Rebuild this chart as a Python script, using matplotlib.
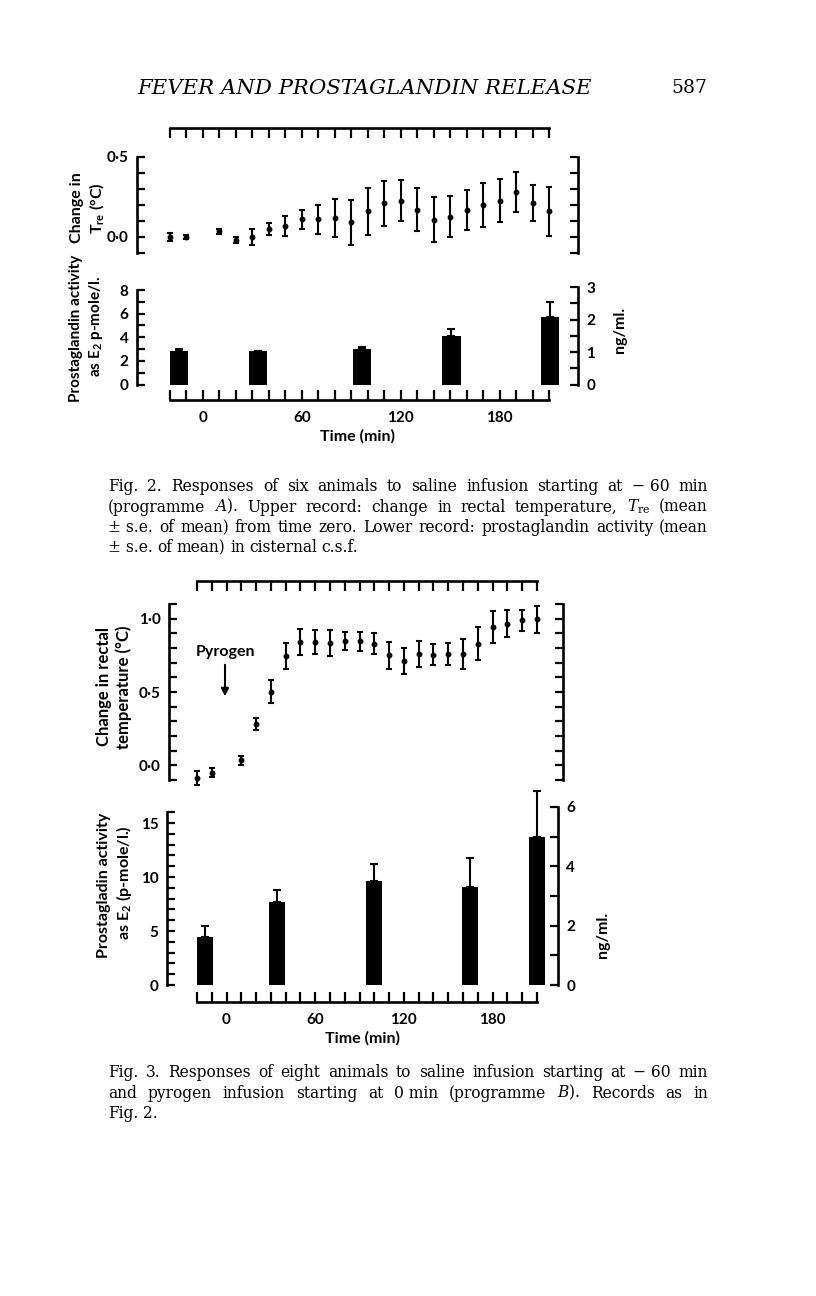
import numpy as np
import matplotlib
matplotlib.use('Agg')
import matplotlib.pyplot as plt

W, H = 816, 1296
K = 2.75  # p-mole/l. per ng/ml. (right-hand scales)

# Fig. 2 - rectal temperature (mean, s.e.)
t2 = [-20, -10, 10, 20, 30, 40, 50, 60, 70, 80, 90, 100, 110, 120, 130, 140,
      150, 160, 170, 180, 190, 200, 210]
m2 = [0.0, 0.0, 0.035, -0.02, 0.0, 0.05, 0.07, 0.11, 0.11, 0.12, 0.093, 0.16,
      0.21, 0.227, 0.17, 0.107, 0.128, 0.17, 0.2, 0.227, 0.283, 0.215, 0.16]
e2 = [0.028, 0.015, 0.018, 0.018, 0.05, 0.038, 0.062, 0.06, 0.09, 0.12, 0.14,
      0.145, 0.14, 0.13, 0.135, 0.14, 0.13, 0.125, 0.14, 0.135, 0.124, 0.113, 0.153]

# Fig. 2 - prostaglandin activity
tb2 = [-14.3, 33.4, 96.3, 150.8, 210.6]
vb2 = [2.85, 2.88, 3.02, 4.14, 5.68]
eb2 = [0.15, 0.0, 0.14, 0.53, 1.34]

# Fig. 3 - rectal temperature
t3 = t2
m3 = [-0.087, -0.05, 0.034, 0.28, 0.503, 0.744, 0.842, 0.842, 0.835, 0.847,
      0.847, 0.83, 0.75, 0.71, 0.76, 0.755, 0.76, 0.76, 0.83, 0.943, 0.966,
      0.989, 0.995]
e3 = [0.05, 0.03, 0.03, 0.042, 0.08, 0.09, 0.09, 0.08, 0.09, 0.063, 0.065,
      0.07, 0.09, 0.088, 0.09, 0.07, 0.077, 0.1, 0.11, 0.11, 0.09, 0.072, 0.09]

# Fig. 3 - prostaglandin activity
tb3 = [-14.6, 34, 100, 164.5, 210]
vb3 = [4.42, 7.7, 9.63, 9.1, 13.7]
eb3 = [1.08, 1.1, 1.57, 2.7, 4.3]

time_ticks = np.arange(-20, 211, 10)
time_labels = [str(t) if t in (0, 60, 120, 180) else '' for t in time_ticks]

cap2 = ["Fig. 2. Responses of six animals to saline infusion starting at \u2212\u00a060 min",
        "(programme $A$). Upper record: change in rectal temperature, $T_{\\mathrm{re}}$ (mean",
        "\u00b1\u00a0s.e. of mean) from time zero. Lower record: prostaglandin activity (mean",
        "\u00b1\u00a0s.e. of mean) in cisternal c.s.f."]
cap3 = ["Fig. 3. Responses of eight animals to saline infusion starting at \u2212\u00a060 min",
        "and pyrogen infusion starting at 0\u00a0min (programme $B$). Records as in",
        "Fig. 2."]

plt.rcParams['font.family'] = ['Lato', 'DejaVu Sans']
plt.rcParams['mathtext.fontset'] = 'custom'
plt.rcParams['mathtext.rm'] = 'Lato:bold'
plt.rcParams['mathtext.it'] = 'Lato:bold:italic'
plt.rcParams['mathtext.bf'] = 'Lato:bold'

LW = 1.9   # spine width
TW = 1.6   # tick width
FS = 11
LFS = 11.5  # axis titles

fig = plt.figure(figsize=(W / 100, H / 100), dpi=100)


def frac(x0, y0, x1, y1):
    return [x0 / W, 1 - y1 / H, (x1 - x0) / W, (y1 - y0) / H]


def time_axes(x0, y0, x1, y1, t0px, ppm):
    ax = fig.add_axes(frac(x0, y0, x1, y1))
    ax.set_xlim((x0 - t0px) / ppm, (x1 - t0px) / ppm)
    ax.patch.set_alpha(0)
    for s in ax.spines.values():
        s.set_linewidth(LW)
    return ax


def tick_bar(y, x0, x1, t0px, ppm):
    ax = time_axes(x0, y, x1, y + 20, t0px, ppm)
    for s in ['left', 'right', 'bottom']:
        ax.spines[s].set_visible(False)
    ax.spines['top'].set_bounds(-20, 210)
    ax.set_xticks(time_ticks)
    ax.tick_params(axis='x', top=True, bottom=False, labelbottom=False,
                   direction='in', length=7, width=TW)
    ax.set_yticks([])


def temp_panel(rect, t0px, ppm, ylim, ticks, labels, t, m, e):
    ax = time_axes(*rect, t0px, ppm)
    ax.set_ylim(*ylim)
    ax.spines['top'].set_visible(False)
    ax.spines['bottom'].set_visible(False)
    ax.set_xticks([])
    ax.set_yticks(ticks)
    ax.set_yticklabels(labels, fontweight='bold')
    ax.tick_params(axis='y', left=True, right=True, direction='in',
                   length=6, width=TW, labelsize=FS, pad=6)
    ax.errorbar(t, m, yerr=e, fmt='o', ms=3.2, color='k', elinewidth=1.5,
                capsize=2.2, capthick=1.5, clip_on=False)
    return ax


def bar_panel(rect, t0px, ppm, ylim, left_top, left_step, ng_top, ng_step,
              t, v, e):
    ax = time_axes(*rect, t0px, ppm)
    ax.set_ylim(*ylim)
    ax.spines['top'].set_visible(False)
    ax.spines['right'].set_visible(False)
    ax.spines['left'].set_bounds(0, left_top)
    ax.spines['bottom'].set_bounds(-20, 210)
    ax.set_xticks(time_ticks)
    ax.set_xticklabels(time_labels, fontweight='bold')
    ax.tick_params(axis='x', direction='in', length=7, width=TW,
                   labelsize=FS, pad=8)
    yt = np.arange(0, left_top + 0.01, 1)
    ax.set_yticks(yt)
    ax.set_yticklabels([f'{y:g}' if y % left_step == 0 else '' for y in yt],
                       fontweight='bold')
    ax.tick_params(axis='y', direction='in', length=6, width=TW,
                   labelsize=FS, pad=6)
    ax.bar(t, v, width=11, color='k')
    ax.errorbar(t, v, yerr=[np.zeros(len(e)), e], fmt='none', ecolor='k',
                elinewidth=1.5, capsize=3, capthick=1.5, clip_on=False)
    ax.set_xlabel('Time (min)', fontsize=LFS, fontweight='bold', labelpad=3)

    tw = ax.twinx()
    tw.set_ylim(ylim[0] / K, ylim[1] / K)
    for s in ['left', 'top', 'bottom']:
        tw.spines[s].set_visible(False)
    tw.spines['right'].set_linewidth(LW)
    tw.spines['right'].set_bounds(0, ng_top)
    rt = np.arange(0, ng_top + 0.01, 1 if ng_step == 2 else 0.5)
    tw.set_yticks(rt)
    tw.set_yticklabels([f'{y:g}' if y % ng_step == 0 else '' for y in rt],
                       fontweight='bold')
    tw.tick_params(axis='y', direction='in', length=6, width=TW,
                   labelsize=FS, pad=6)
    return ax


def vtext(x, y, s, size=LFS):
    fig.text(x / W, 1 - y / H, s, rotation=90, ha='center', va='center',
             fontsize=size, fontweight='bold')


def justified(line, y, x0=108, x1=708, justify=True):
    words = line.split(' ')
    texts = [fig.text(0, 1 - y / H, w, family='DejaVu Serif', fontsize=11.2,
                      va='baseline', math_fontfamily='dejavuserif')
             for w in words]
    r = fig.canvas.get_renderer()
    widths = [tx.get_window_extent(r).width for tx in texts]
    gap = (x1 - x0 - sum(widths)) / (len(words) - 1) if justify else 4.5
    x = x0
    for tx, w in zip(texts, widths):
        tx.set_x(x / W)
        x += w + gap


# header
fig.text(365 / W, 1 - 88 / H, 'FEVER AND PROSTAGLANDIN RELEASE',
         family='DejaVu Serif', style='italic', fontsize=15.3,
         ha='center', va='center')
fig.text(689 / W, 1 - 88 / H, '587', family='DejaVu Serif',
         fontsize=13.5, ha='center', va='center')

# ---- Fig. 2 ----
t0_2, ppm_2 = 202.96, 1.648
tick_bar(128, 137, 578, t0_2, ppm_2)
temp_panel((137, 157, 578, 253), t0_2, ppm_2, (-0.1, 0.5),
           np.round(np.arange(-0.1, 0.51, 0.1), 2),
           ['', '0\u00b70', '', '', '', '', '0\u00b75'], t2, m2, e2)
bar_panel((137, 278, 578, 400), t0_2, ppm_2, (-1.31, 9.02), 8, 2, 3, 1,
          tb2, vb2, eb2)
vtext(77, 208, 'Change in')
vtext(97, 208, 'T$_{\\rm re}$ (\u00b0C)')
vtext(76, 328, 'Prostaglandin activity', size=11)
vtext(96, 326, 'as E$_2$ p-mole/l.', size=11)
vtext(620, 330, 'ng/ml.')

for i, line in enumerate(cap2):
    justified(line, 491 + i * 20.5, justify=i < 3)

# ---- Fig. 3 ----
t0_3, ppm_3 = 226.56, 1.478
tick_bar(581, 169, 563, t0_3, ppm_3)
temp_panel((169, 604, 563, 780), t0_3, ppm_3, (-0.1, 1.1),
           np.round(np.arange(-0.1, 1.11, 0.1), 2),
           ['', '0\u00b70', '', '', '', '', '0\u00b75', '', '', '', '',
            '1\u00b70', ''], t3, m3, e3)
bar_panel((167, 785, 558, 1002), t0_3, ppm_3, (-1.574, 18.52), 16, 5, 6, 2,
          tb3, vb3, eb3)
vtext(104, 687, 'Change in rectal', size=12)
vtext(124, 687, 'temperature (\u00b0C)', size=12)
vtext(104, 885, 'Prostagladin activity')
vtext(124, 883, 'as E$_2$ (p-mole/l.)')
vtext(603, 935, 'ng/ml.')

fig.text(225 / W, 1 - 652 / H, 'Pyrogen', ha='center', va='center',
         fontsize=LFS, fontweight='bold')
fig.add_artist(matplotlib.patches.FancyArrowPatch(
    (225 / W, 1 - 662 / H), (225 / W, 1 - 699 / H), transform=fig.transFigure,
    arrowstyle='-|>', mutation_scale=11, lw=1.5, color='k'))

for i, line in enumerate(cap3):
    justified(line, 1077 + i * 20.5, justify=i < 2)

fig.savefig('out.png', dpi=100)
